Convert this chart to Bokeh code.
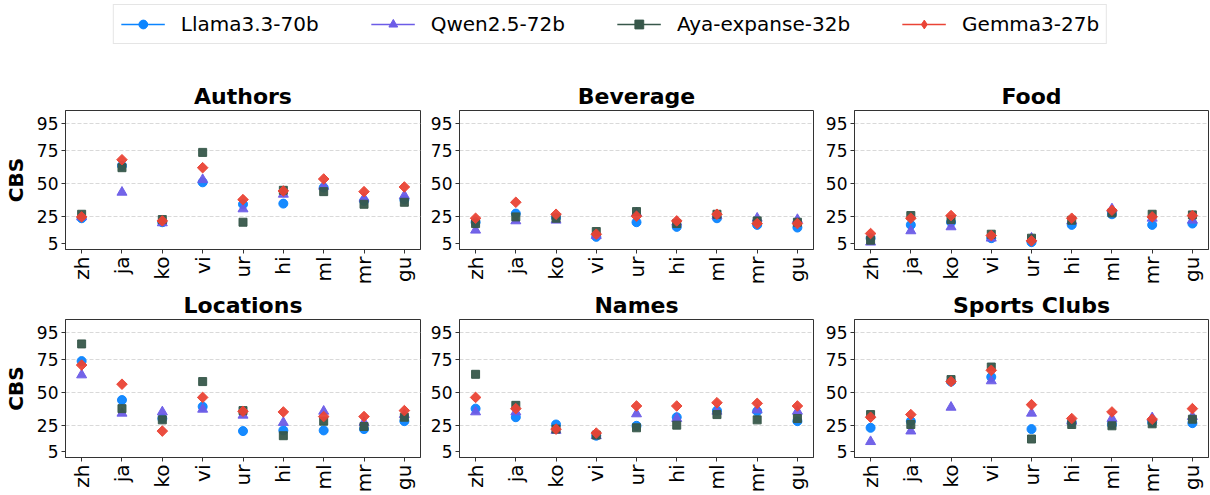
import math
from bokeh.plotting import figure
from bokeh.layouts import column, row
from bokeh.models import Range1d, FixedTicker, Legend, LegendItem
from bokeh.embed import file_html
from bokeh.resources import INLINE

# ---------------- data ----------------
languages = ["zh", "ja", "ko", "vi", "ur", "hi", "ml", "mr", "gu"]
models = ["Llama3.3-70b", "Qwen2.5-72b", "Aya-expanse-32b", "Gemma3-27b"]
categories = ["Authors", "Beverage", "Food", "Locations", "Names", "Sports Clubs"]

authors_llama = [24, 63.5, 21, 51, 34.5, 35, 47, 37, 38]
authors_qwen = [25, 43.5, 20.5, 53, 31, 42, 48, 39, 41]
authors_aya = [27, 62, 23, 73.5, 21, 45, 44, 34.5, 36]
authors_gemma = [25, 68, 22, 62, 38, 44.5, 53.5, 44, 47.5]

beverage_llama = [21, 27.5, 24.5, 10, 21, 17.5, 24, 19, 17]
beverage_qwen = [15, 22, 22.5, 11, 28, 21, 26, 24, 23]
beverage_aya = [20, 25, 24, 14, 29, 20, 27, 22, 21]
beverage_gemma = [24, 36, 27, 12, 25.5, 22, 27, 20, 20]

food_llama = [9, 19, 21, 9, 6, 19, 27, 19, 20]
food_qwen = [6, 14.5, 17.5, 9, 9, 22, 31, 24, 22.5]
food_aya = [7.5, 26, 23, 12, 9, 22.5, 28, 27, 26.5]
food_gemma = [12.5, 24, 26, 11, 7, 24, 30, 25, 26]

locations_llama = [73.5, 44, 30, 39, 20.5, 21, 21, 22, 28]
locations_qwen = [63, 34, 35, 37, 32.5, 27, 35.5, 27, 33]
locations_aya = [86.5, 37.5, 29, 58, 36, 17, 28, 24, 31]
locations_gemma = [70.5, 56, 20.5, 46, 35.5, 35, 31.5, 31.5, 36]

names_llama = [37.5, 31, 25.5, 17, 24.5, 31, 36, 35.5, 28]
names_qwen = [35, 35, 21, 17, 33.5, 30, 35.5, 36.5, 35.5]
names_aya = [63.5, 40, 22, 17.5, 23, 25, 33, 29, 30]
names_gemma = [46, 37.5, 22, 19, 39.5, 39.5, 42, 41.5, 39.5]

sports_llama = [23, 28, 58, 61.5, 22, 27, 25.5, 27, 26.5]
sports_qwen = [12.5, 20.5, 38.5, 58.5, 34, 28, 30, 30.5, 31.5]
sports_aya = [33, 25.5, 59.5, 69, 14.5, 25.5, 24.5, 26, 29.5]
sports_gemma = [31, 33, 58, 66.5, 40.5, 30, 35, 29.5, 37.5]

y_ticks = [5, 25, 50, 75, 95]
grid_ticks = [25, 50, 75, 95]

panel_series = [
    [authors_llama, authors_qwen, authors_aya, authors_gemma],
    [beverage_llama, beverage_qwen, beverage_aya, beverage_gemma],
    [food_llama, food_qwen, food_aya, food_gemma],
    [locations_llama, locations_qwen, locations_aya, locations_gemma],
    [names_llama, names_qwen, names_aya, names_gemma],
    [sports_llama, sports_qwen, sports_aya, sports_gemma],
]

# ---------------- styles ----------------
FONT = "DejaVu Sans"
colors = ["#0A84FF", "#6C5CE7", "#37574A", "#EA4335"]
markers = ["circle", "triangle", "square", "square"]
angles = [0, 0, 0, math.pi / 4]
sizes = [9, 10, 8, 7.5]
leg_markers = ["circle", "triangle", "square", "diamond"]
leg_sizes = [11, 12, 10, 17]
AX = "#333333"


def make_panel(title, series, col, rown):
    p = figure(
        frame_width=355 if col == 0 else 354,
        frame_height=139 if rown == 0 else 138,
        x_range=Range1d(-0.4, len(languages) - 1 + 0.4),
        y_range=Range1d(0.5, 105),
        output_backend="svg",
        toolbar_location=None,
        min_border_left=63 if col == 0 else 37,
        min_border_right=2 if col != 1 else 4,
        min_border_top=62 if rown == 0 else 30,
        min_border_bottom=40 if rown == 0 else 36,
        background_fill_color="white",
        border_fill_color="white",
    )
    p.title.text = title
    p.title.align = "center"
    p.title.text_font = FONT
    p.title.text_font_size = "22px"
    p.title.text_font_style = "bold"
    p.title.text_color = "black"
    p.title.standoff = 3

    p.outline_line_color = AX
    p.outline_line_width = 1

    xs = list(range(len(languages)))
    p.xaxis.ticker = FixedTicker(ticks=xs)
    p.xaxis.major_label_overrides = {i: l for i, l in enumerate(languages)}
    p.xaxis.major_label_orientation = math.pi / 2
    p.yaxis.ticker = FixedTicker(ticks=y_ticks)
    for ax in (p.xaxis, p.yaxis):
        ax.major_label_text_font = FONT
        ax.major_label_text_color = "black"
        ax.axis_line_color = AX
        ax.major_tick_line_color = AX
        ax.major_tick_out = 4
        ax.major_tick_in = 0
        ax.minor_tick_line_color = None
        ax.major_label_standoff = 3
    p.xaxis.major_label_text_font_size = "20px"
    p.yaxis.major_label_text_font_size = "17px"
    if col == 0:
        p.yaxis.axis_label = "CBS"
        p.yaxis.axis_label_text_font = FONT
        p.yaxis.axis_label_text_font_size = "20px"
        p.yaxis.axis_label_text_font_style = "bold"
        p.yaxis.axis_label_text_color = "black"
        p.yaxis.axis_label_standoff = 6

    p.xgrid.visible = False
    p.ygrid.ticker = FixedTicker(ticks=grid_ticks)
    p.ygrid.grid_line_color = "#d9d9d9"
    p.ygrid.grid_line_dash = "4 2"
    p.ygrid.grid_line_width = 1

    for i in range(len(models)):
        p.scatter(
            x=xs,
            y=series[i],
            marker=markers[i],
            size=sizes[i],
            angle=angles[i],
            fill_color=colors[i],
            line_color=colors[i],
            fill_alpha=0.95,
            line_alpha=0.95,
        )
    return p


panels = []
for k, cat in enumerate(categories):
    panels.append(make_panel(cat, panel_series[k], k % 3, k // 3))

# ---------------- legend ----------------
leg = figure(
    width=1208,
    height=48,
    output_backend="svg",
    toolbar_location=None,
    x_axis_type=None,
    y_axis_type=None,
    x_range=Range1d(0, 1),
    y_range=Range1d(0, 1),
    min_border=0,
    min_border_left=12,
)
leg.outline_line_color = None
leg.xgrid.visible = False
leg.ygrid.visible = False
nan = float("nan")
items = []
for i, m in enumerate(models):
    # legend-only renderers: a single NaN point, so nothing is drawn in the frame
    lr = leg.line(x=[nan], y=[nan], line_color=colors[i], line_width=1.5)
    sr = leg.scatter(x=[nan], y=[nan], marker=leg_markers[i], size=leg_sizes[i],
                     fill_color=colors[i], line_color=colors[i])
    items.append(LegendItem(label=m, renderers=[lr, sr]))
legend = Legend(
    items=items,
    orientation="horizontal",
    location="center",
    label_text_font=FONT,
    label_text_font_size="20px",
    label_text_color="black",
    label_height=22,
    glyph_height=22,
    glyph_width=44,
    label_standoff=16,
    spacing=52,
    padding=7,
    margin=0,
    border_line_color="#cccccc",
    border_line_width=1,
    background_fill_color="white",
    background_fill_alpha=1,
)
leg.add_layout(legend, "center")

layout = column(
    leg,
    row(panels[0], panels[1], panels[2]),
    row(panels[3], panels[4], panels[5]),
)

open("out.html", "w").write(file_html(layout, INLINE))
